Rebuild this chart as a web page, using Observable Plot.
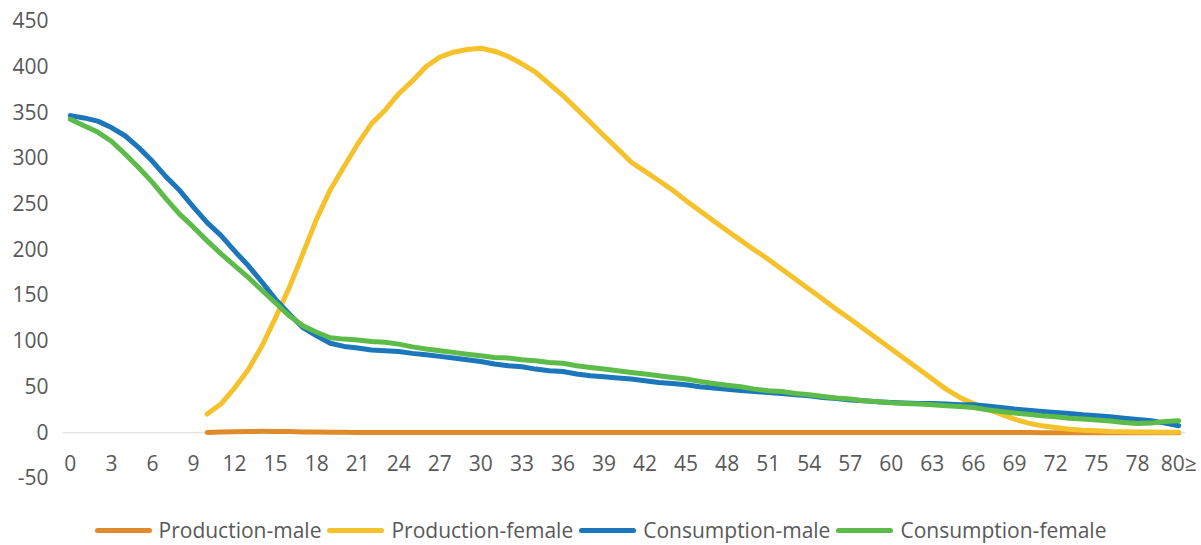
<!DOCTYPE html>
<html>
<head>
<meta charset="utf-8">
<script src="https://cdn.jsdelivr.net/npm/d3@7"></script>
<script src="https://cdn.jsdelivr.net/npm/@observablehq/plot@0.6"></script>
<style>
  html, body { margin: 0; padding: 0; background: #fff; overflow: hidden; }
  #chart svg { display: block; }
  #legend {
    display: flex; justify-content: center; align-items: center;
    box-sizing: border-box; margin-top: 8px; height: 44px;
    font-family: "Open Sans", sans-serif; font-size: 21px; color: #595959;
  }
  .item { display: flex; align-items: center; margin: 0 3px; }
  .swatch { display: inline-block; width: 57px; height: 5px; border-radius: 3px; margin-right: 7px; }
</style>
</head>
<body>
<div id="chart"></div>
<div id="legend"></div>
<script>
// Age categories 0..81, the last one standing for "80 and over"
const ages = d3.range(0, 82);
const xTicks = [0, 3, 6, 9, 12, 15, 18, 21, 24, 27, 30, 33, 36, 39, 42, 45, 48, 51, 54, 57, 60, 63, 66, 69, 72, 75, 78, 81];
const xTickLabels = ["0", "3", "6", "9", "12", "15", "18", "21", "24", "27", "30", "33", "36", "39", "42", "45", "48", "51", "54", "57", "60", "63", "66", "69", "72", "75", "78", "80≥"];
const yTicks = [-50, 0, 50, 100, 150, 200, 250, 300, 350, 400, 450];

const seriesNames = ["Production-male", "Production-female", "Consumption-male", "Consumption-female"];
const seriesColors = ["#DF8A2B", "#F5C22C", "#1C76BC", "#5DBB4A"];

// Production starts at age 10
const productionMale = [
  null, null, null, null, null, null, null, null, null, null,
  0.3, 0.8, 1.2, 1.5, 1.6, 1.5, 1.3, 1.0, 0.8, 0.6,
  0.5, 0.45, 0.4, 0.4, 0.4, 0.35, 0.35, 0.3, 0.3, 0.3,
  0.3, 0.3, 0.3, 0.3, 0.3, 0.3, 0.3, 0.3, 0.3, 0.3,
  0.3, 0.3, 0.3, 0.3, 0.3, 0.3, 0.3, 0.3, 0.3, 0.3,
  0.3, 0.3, 0.3, 0.3, 0.3, 0.3, 0.3, 0.3, 0.3, 0.3,
  0.3, 0.3, 0.3, 0.3, 0.25, 0.25, 0.2, 0.2, 0.2, 0.2,
  0.2, 0.15, 0.15, 0.1, 0.1, 0.1, 0.1, 0.1, 0.1, 0.1,
  0.1, 0.1
];

const productionFemale = [
  null, null, null, null, null, null, null, null, null, null,
  20.5, 31.4, 49, 69, 95, 126, 159, 196, 234, 266,
  291, 316, 338, 353, 371, 385, 400.7, 411, 416.4, 419.4,
  420.8, 417.5, 411.7, 403.7, 394.5, 381.8, 369, 354.4, 339.8, 325,
  310.6, 296, 286, 276, 265.7, 254, 243, 232, 221, 210.5,
  200, 190, 179, 168, 157, 146, 135, 124.5, 113.5, 102.6,
  91.6, 80.7, 69.7, 58.8, 47.8, 38.7, 32, 26, 20.4, 15,
  10.6, 7.7, 5.8, 4, 2.9, 2.2, 1.5, 1.2, 1, 0.8,
  0.6, 0.5
];

const consumptionMale = [
  347, 344.5, 341, 334, 325, 312, 297, 280, 265, 247,
  230, 216, 199, 183, 165, 146, 130, 115, 106, 98,
  94.5, 92.7, 90.5, 89.8, 89, 86.9, 85.4, 83.6, 81.8, 80,
  78, 75.2, 73.4, 72.3, 69.7, 68, 67, 64.3, 62.4, 61.3,
  59.9, 58.8, 57, 55, 54, 52.6, 50.4, 48.9, 47.5, 46.3,
  45.2, 44, 43, 41.6, 40.5, 38.7, 37.6, 36, 35, 34,
  33.2, 32.5, 32, 32, 31.4, 30.7, 30.7, 29.2, 27.7, 26,
  24.8, 23.4, 22.3, 21.2, 19.7, 18.6, 17.5, 16, 14.6, 13.1,
  10.6, 7.7
];

const consumptionFemale = [
  343, 336, 329, 319, 305, 290, 274, 256, 239, 225,
  210, 196, 183, 170, 156, 142, 128, 117, 110, 104,
  102.5, 101.5, 100, 99, 97, 94, 91.6, 89.8, 88, 86,
  84.3, 82.5, 81.8, 80, 78.8, 77, 76, 73.4, 71.5, 69.7,
  67.9, 66, 64.3, 62.4, 60.5, 58.8, 56.3, 54, 52, 50.4,
  47.8, 46, 45.2, 43, 41.6, 39.8, 38, 36.9, 35, 34,
  32.8, 32, 31.4, 30.7, 29.6, 28.8, 27.7, 25.2, 23.4, 21.6,
  20.4, 18.6, 17.5, 16, 15, 13.9, 12.8, 11.3, 10.2, 10.6,
  12.4, 13.1
];

const seriesValues = [productionMale, productionFemale, consumptionMale, consumptionFemale];

const toRows = (values) => ages.map((age, i) => ({age, value: values[i]}));

// Drawn in series order so the consumption lines sit on top
const lineMarks = seriesValues.map((values, k) =>
  Plot.line(toRows(values), {
    x: "age", y: "value",
    stroke: seriesColors[k], strokeWidth: 5,
    strokeLinecap: "round", strokeLinejoin: "round", curve: "linear"
  })
);

const chart = Plot.plot({
  width: 1201,
  height: 500,
  marginTop: 21,
  marginBottom: 22,
  marginLeft: 63,
  marginRight: 16,
  style: {fontFamily: "'Open Sans', sans-serif", fontSize: "21px", color: "#595959", background: "#fff"},
  x: {type: "linear", domain: [-0.5, 81.5], axis: null},
  y: {domain: [-50, 450], axis: null},
  marks: [
    Plot.axisY(yTicks, {tickSize: 0, tickPadding: 15, fontSize: 21, fill: "#595959", label: null, tickFormat: d => String(d)}),
    Plot.ruleY([0], {stroke: "#D9D9D9", strokeWidth: 1}),
    Plot.text(xTicks, {
      x: d => d, y: () => 0, dy: 31,
      text: (d, i) => xTickLabels[i],
      fontSize: 21, fill: "#595959"
    }),
    ...lineMarks
  ]
});
document.getElementById("chart").appendChild(chart);

const legend = document.getElementById("legend");
seriesNames.forEach((name, k) => {
  const item = document.createElement("div");
  item.className = "item";
  const sw = document.createElement("span");
  sw.className = "swatch";
  sw.style.background = seriesColors[k];
  const label = document.createElement("span");
  label.textContent = name;
  item.appendChild(sw);
  item.appendChild(label);
  legend.appendChild(item);
});
</script>
</body>
</html>
